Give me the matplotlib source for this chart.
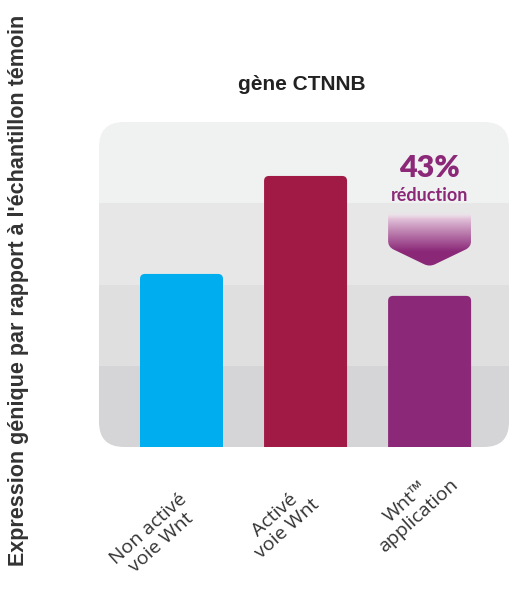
import numpy as np
import matplotlib
matplotlib.use("Agg")
import matplotlib.pyplot as plt
from matplotlib.patches import FancyBboxPatch, PathPatch
from matplotlib.path import Path

# ---- data ----
categories = ["Non activé\nvoie Wnt", "Activé\nvoie Wnt", "Wnt™\napplication"]
values = [1.065, 1.668, 0.93]
bar_colors = ["#00aeef", "#a01a45", "#8b2878"]
title = "gène CTNNB"
ylabel = "Expression génique par rapport à l'échantillon témoin"
reduction_pct = "43%"
reduction_txt = "réduction"
band_edges = [0.0, 0.5, 1.0, 1.5, 2.0]
band_colors = ["#d5d5d7", "#dfdfe0", "#e7e7e7", "#f0f1f1"]

W, H = 510, 591
fig = plt.figure(figsize=(W / 100, H / 100), dpi=100)
fig.patch.set_facecolor("white")

ax_l, ax_b, ax_w, ax_h = 99, 144, 410, 325
ax = fig.add_axes([ax_l / W, ax_b / H, ax_w / W, ax_h / H])
ax.set_xlim(-0.665, 2.64)
ax.set_ylim(0, 2.0)
ax.axis("off")

px_x = ax_w / (2.64 + 0.665)   # pixels per x unit
px_y = ax_h / 2.0              # pixels per y unit

# rounded panel
rad = 25
panel = FancyBboxPatch((0, 0), 1, 1, boxstyle=f"round,pad=0,rounding_size={rad / ax_w}",
                       mutation_aspect=ax_w / ax_h, transform=ax.transAxes,
                       facecolor="none", edgecolor="none", zorder=0)
ax.add_patch(panel)
for lo, hi, c in zip(band_edges[:-1], band_edges[1:], band_colors):
    r = ax.axhspan(lo, hi, color=c, lw=0, zorder=0.5)
    r.set_clip_path(panel)

# bars with rounded top corners
bw = 83 / px_x
br = 5 / px_x
for i, (v, c) in enumerate(zip(values, bar_colors)):
    p = FancyBboxPatch((i - bw / 2, -0.2), bw, v + 0.2,
                       boxstyle=f"round,pad=0,rounding_size={br}",
                       mutation_aspect=px_x / px_y, facecolor=c, edgecolor="none", zorder=2)
    ax.add_patch(p)

# gradient chevron over third bar
cx = 2
hw = bw / 2
y_top = values[1] - 36 / px_y
y_s = values[2] + 49 / px_y
y_t = values[2] + 29 / px_y
ry = 6 / px_y
ddx, ddy = 5.4 / px_x, 2.6 / px_y
verts = [(cx - hw, y_top), (cx - hw, y_s + ry),
         (cx - hw, y_s), (cx - hw + ddx, y_s - ddy),
         (cx - ddx, y_t + ddy),
         (cx, y_t), (cx + ddx, y_t + ddy),
         (cx + hw - ddx, y_s - ddy),
         (cx + hw, y_s), (cx + hw, y_s + ry),
         (cx + hw, y_top), (cx - hw, y_top)]
codes = [Path.MOVETO, Path.LINETO,
         Path.CURVE3, Path.CURVE3,
         Path.LINETO,
         Path.CURVE3, Path.CURVE3,
         Path.LINETO,
         Path.CURVE3, Path.CURVE3,
         Path.LINETO, Path.CLOSEPOLY]
chev = PathPatch(Path(verts, codes), facecolor="none", edgecolor="none")
ax.add_patch(chev)
N = 200
t = np.linspace(0, 1, N)
pale = np.array([0.97, 0.91, 0.95])
purp = np.array([0.545, 0.157, 0.47])
k = np.clip(t / 0.72, 0, 1) ** 0.9
img = np.zeros((N, 1, 4))
img[:, 0, :3] = pale[None, :] * (1 - k[:, None]) + purp[None, :] * k[:, None]
img[:, 0, 3] = np.clip(t / 0.12, 0, 1)
im = ax.imshow(img, extent=[cx - hw, cx + hw, y_t, y_top], origin="upper",
               aspect="auto", zorder=3, interpolation="bilinear")
im.set_clip_path(chev)
ax.set_xlim(-0.665, 2.64)
ax.set_ylim(0, 2.0)

ax.text(cx, values[1] + 0.049, reduction_pct, ha="center", va="center",
        fontsize=22, fontweight="heavy", color="#8b2878", family="Lato", zorder=4)
ax.text(cx, values[1] - 0.12, reduction_txt, ha="center", va="center",
        fontsize=13, fontweight="bold", color="#8b2878", family="Lato", zorder=4)

# category labels (block centre offsets from bar centre, in pixels)
label_off = [(-26.5, 89), (-24.5, 75), (-17.5, 62)]
for i, (lab, (dx, dy)) in enumerate(zip(categories, label_off)):
    ax.text(i + dx / px_x, -dy / px_y, lab, rotation=42, rotation_mode="anchor",
            ha="center", va="center", multialignment="center", linespacing=1.05,
            fontsize=14, color="#333333", family="Open Sans", clip_on=False)

fig.text(302 / W, 1 - 85 / H, title, ha="center", va="center",
         fontsize=15, fontweight="bold", color="#222222", family="Liberation Sans")
fig.text(19 / W, 1 - 290 / H, ylabel, rotation=90, ha="center", va="center",
         fontsize=15.5, fontweight="bold", color="#333333", family="Liberation Sans")

fig.savefig("out.png", dpi=100, facecolor="white")
